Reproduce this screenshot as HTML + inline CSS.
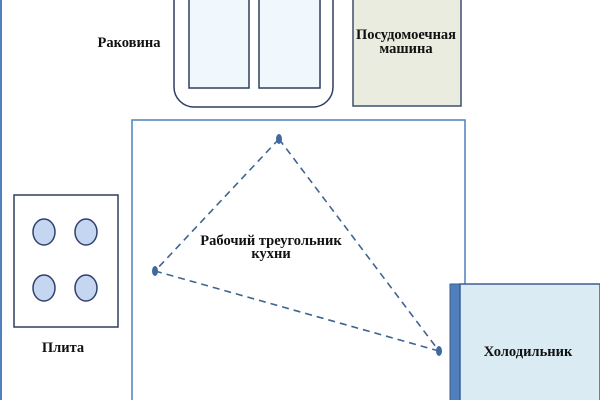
<!DOCTYPE html>
<html><head><meta charset="utf-8"><style>
html,body{margin:0;padding:0;background:#fff;}
svg{display:block;}
text{font-family:"Liberation Serif",serif;font-weight:bold;font-size:14.5px;fill:#111;}
</style></head><body>
<svg width="600" height="400" viewBox="0 0 600 400">
<line x1="1" y1="0" x2="1" y2="400" stroke="#4f81bd" stroke-width="2"/>
<rect x="174" y="-20" width="159" height="127" rx="20" fill="#fff" stroke="#2f3f5f" stroke-width="1.5"/>
<rect x="189" y="-2" width="60" height="90" fill="#f0f8fd" stroke="#2f3f5f" stroke-width="1.5"/>
<rect x="259" y="-2" width="61" height="90" fill="#f0f8fd" stroke="#2f3f5f" stroke-width="1.5"/>
<rect x="353" y="-2" width="108" height="108" fill="#e9ecdf" stroke="#3f4f6f" stroke-width="1.5"/>
<rect x="132" y="120" width="333" height="300" fill="#fff" stroke="#4f81bd" stroke-width="1.5"/>
<rect x="14" y="195" width="104" height="132" fill="#fff" stroke="#2f3f5f" stroke-width="1.5"/>
<g fill="#c5d6f0" stroke="#2f3f6f" stroke-width="1.5">
<ellipse cx="44" cy="232" rx="11" ry="13"/><ellipse cx="86" cy="232" rx="11" ry="13"/>
<ellipse cx="44" cy="288" rx="11" ry="13"/><ellipse cx="86" cy="288" rx="11" ry="13"/>
</g>
<rect x="450" y="284" width="10" height="118" fill="#4f7fbd" stroke="#3a5f95"/>
<rect x="460" y="284" width="140" height="118" fill="#daebf3" stroke="#3a5f95" stroke-width="1.5"/>
<g stroke="#3f6590" stroke-width="1.6" stroke-dasharray="7,5" fill="none">
<line x1="279" y1="139" x2="155" y2="271"/>
<line x1="279" y1="139" x2="439" y2="351"/>
<line x1="155" y1="271" x2="439" y2="351"/>
</g>
<g fill="#3f6aa0"><ellipse cx="279" cy="139" rx="3" ry="5"/><ellipse cx="155" cy="271" rx="3" ry="5"/><ellipse cx="439" cy="351" rx="3" ry="5"/></g>
<text x="129" y="47" text-anchor="middle">Раковина</text>
<text x="406" y="39" text-anchor="middle">Посудомоечная</text>
<text x="406" y="53" text-anchor="middle">машина</text>
<text x="271" y="245" text-anchor="middle">Рабочий треугольник</text>
<text x="271" y="258" text-anchor="middle">кухни</text>
<text x="63" y="352" text-anchor="middle">Плита</text>
<text x="528" y="356" text-anchor="middle">Холодильник</text>
</svg>
</body></html>
